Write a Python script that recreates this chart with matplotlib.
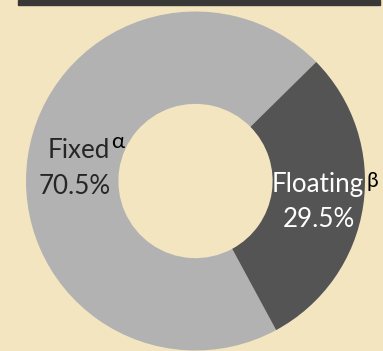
import matplotlib
matplotlib.use("Agg")
import matplotlib.pyplot as plt
from matplotlib.patches import Rectangle

labels = ["Fixed", "Floating"]
values = [70.5, 29.5]
marks = ["α", "β"]
colors = ["#B2B2B2", "#545454"]
bg = "#F4E5C1"

W, H, DPI = 383, 351, 100
fig = plt.figure(figsize=(W / DPI, H / DPI), dpi=DPI, facecolor=bg)
ax = fig.add_axes([0, 0, 1, 1])
ax.set_facecolor(bg)

# pie geometry in pixels
cx, cy, r = 195.5, 181.0, 169.5

ax.pie(values, colors=colors, startangle=44.6, counterclock=True,
       radius=1.0, wedgeprops=dict(width=0.545, linewidth=0))
ax.set_aspect("auto")
ax.set_xlim(-cx / r, (W - cx) / r)
ax.set_ylim((cy - H) / r, cy / r)
ax.axis("off")


def px(x, y):
    return (x - cx) / r, (cy - y) / r


fam = ["Lato", "DejaVu Sans"]
fs = 18.7

# Fixed label
ax.text(*px(78.5, 158), labels[0], ha="center", va="baseline",
        fontsize=fs, color="#262626", family=fam)
ax.text(*px(75, 194), f"{values[0]}%", ha="center", va="baseline",
        fontsize=fs, color="#262626", family=fam)
ax.text(*px(111, 148), marks[0], ha="left", va="baseline",
        fontsize=16, color="black", family=fam)

# Floating label
ax.text(*px(318, 192), labels[1], ha="center", va="baseline",
        fontsize=fs, color="white", family=fam)
ax.text(*px(319, 227), f"{values[1]}%", ha="center", va="baseline",
        fontsize=fs, color="white", family=fam)
ax.text(*px(367, 187), marks[1], ha="left", va="baseline",
        fontsize=15, color="black", family=fam)

# dark header strip
fig.patches.append(Rectangle((18 / W, 1 - 5 / H), (380 - 18) / W, 5 / H,
                             transform=fig.transFigure, color="#3A3836",
                             zorder=5))

fig.savefig("out.png", dpi=DPI, facecolor=bg)
